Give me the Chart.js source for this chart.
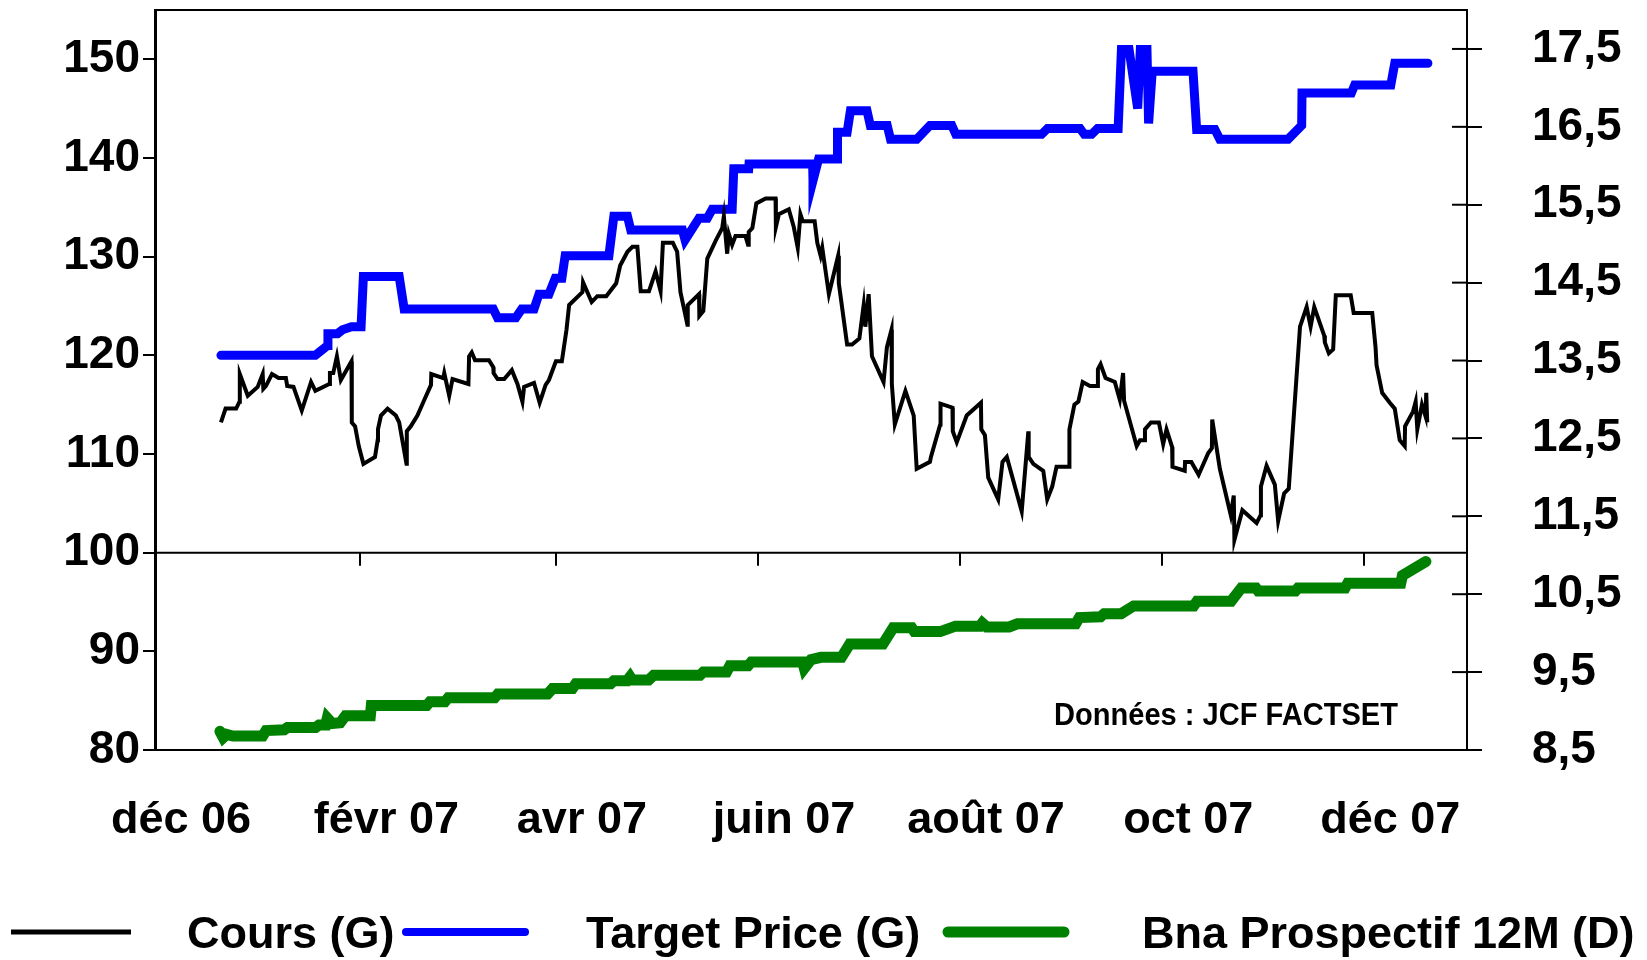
<!DOCTYPE html>
<html>
<head>
<meta charset="utf-8">
<script src="https://cdn.jsdelivr.net/npm/chart.js@4/dist/chart.umd.min.js"></script>
<style>
  html, body { margin: 0; padding: 0; background: #fff; }
</style>
</head>
<body>
<canvas id="chart" width="1647" height="960"></canvas>
<script>
// x values are days counted from 1 Dec 2006
var startDate = '2006-12-01';
var monthStarts = ['2006-12-01', '2007-02-01', '2007-04-01', '2007-06-01', '2007-08-01', '2007-10-01', '2007-12-01'];
var monthLabels = ['déc 06', 'févr 07', 'avr 07', 'juin 07', 'août 07', 'oct 07', 'déc 07'];
var leftTicks = [80, 90, 100, 110, 120, 130, 140, 150];
var rightTicks = [8.5, 9.5, 10.5, 11.5, 12.5, 13.5, 14.5, 15.5, 16.5, 17.5];
var seriesNames = ['Cours (G)', 'Target Price (G)', 'Bna Prospectif 12M (D)'];
var sourceText = 'Données : JCF FACTSET';

// Cours (G)
var coursDays = [19.9, 21.3, 24.5, 25.5, 25.6, 28.0, 31.0, 32.5, 32.7, 33.5, 35.3, 37.3, 39.5, 39.9, 41.8, 44.3, 47.1, 48.4,
    52.6, 52.8, 53.8, 54.9, 56.1, 59.3, 59.4, 60.4, 61.5, 62.9, 66.4, 67.2, 67.3, 68.2, 70.2, 72.7, 73.7, 75.9, 76.0, 77.2,
    79.2, 81.3, 83.3, 83.4, 87.0, 87.3, 88.8, 89.8, 94.6, 94.8, 95.6, 96.6, 100.8, 102.1, 102.2, 103.4, 105.4, 107.7, 109.4,
    110.9, 111.4, 114.4, 116.1, 117.1, 117.9, 118.9, 121.0, 122.8, 124.2, 125.0, 129.0, 129.2, 131.8, 133.5, 136.2, 139.2,
    140.4, 142.6, 144.1, 145.6, 146.6, 149.1, 151.1, 152.6, 153.3, 156.3, 157.6, 158.6, 160.7, 160.8, 164.2, 164.3, 165.5,
    166.7, 169.2, 171.2, 171.7, 172.7, 173.2, 174.2, 175.2, 178.2, 179.0, 179.2, 180.3, 181.5, 184.3, 187.3, 187.4, 188.3,
    191.3, 192.8, 194.0, 194.8, 195.5, 199.1, 199.9, 200.9, 201.4, 203.4, 206.2, 206.4, 208.9, 210.4, 212.6, 213.9, 214.4,
    215.4, 216.4, 219.9, 220.9, 222.3, 222.4, 223.3, 226.5, 229.0, 229.9, 233.9, 234.2, 237.0, 237.1, 240.7, 240.8, 242.0,
    245.0, 249.3, 249.4, 250.5, 251.5, 254.5, 255.8, 257.1, 261.6, 263.6, 263.7, 265.1, 268.1, 269.3, 270.8, 272.1, 275.9,
    276.0, 277.5, 278.7, 280.0, 282.2, 284.5, 284.6, 285.4, 286.9, 289.7, 291.2, 292.2, 292.5, 296.3, 297.3, 298.6, 298.8,
    300.6, 303.0, 304.3, 305.3, 307.0, 307.1, 310.8, 310.9, 312.8, 315.0, 317.9, 319.0, 319.1, 321.4, 324.7, 325.6, 325.8,
    328.2, 332.5, 333.7, 333.8, 335.5, 338.0, 339.0, 340.8, 342.2, 345.6, 347.6, 348.8, 349.9, 352.9, 353.1, 354.3, 355.6,
    356.4, 360.9, 361.8, 367.4, 368.4, 368.7, 370.4, 372.7, 374.2, 375.7, 377.2, 377.3, 379.7, 380.5, 381.0, 382.4, 383.5,
    383.7, 384.0];
var coursValues = [113.2, 114.6, 114.6, 115.3, 118.1, 115.9, 116.8, 118.1, 116.6, 116.9, 118.1, 117.7, 117.7, 116.9, 116.8, 114.4, 117.3, 116.4,
    117.1, 118.2, 118.2, 119.9, 117.5, 119.4, 113.2, 112.8, 110.8, 109.0, 109.7, 111.4, 112.5, 113.9, 114.6, 113.9, 113.2, 109.0, 112.3, 112.8,
    113.9, 115.5, 117.0, 118.1, 117.7, 118.2, 115.9, 117.6, 117.1, 119.9, 120.3, 119.5, 119.5, 118.8, 118.2, 117.6, 117.6, 118.5, 117.1,
    115.3, 116.8, 117.2, 115.2, 116.2, 117.0, 117.5, 119.4, 119.4, 122.6, 125.1, 126.4, 127.4, 125.4, 126.0, 126.0, 127.3,
    129.1, 130.5, 131.0, 131.0, 126.5, 126.5, 128.5, 126.5, 131.4, 131.4, 130.5, 126.4, 123.1, 125.1, 126.2, 124.0, 124.5,
    129.8, 131.6, 132.9, 134.1, 130.3, 132.3, 131.2, 132.1, 132.1, 131.2, 132.5, 132.9, 135.4, 135.9, 135.9, 133.0, 134.3,
    134.8, 133.0, 130.9, 134.3, 133.6, 133.6, 131.4, 130.1, 130.9, 126.2, 130.1, 127.3, 121.1, 121.1, 121.7, 125.1, 122.9,
    126.2, 119.9, 117.3, 120.8, 122.6, 117.1, 113.0, 116.4, 113.9, 108.5, 109.2, 109.7, 113.0, 115.1, 114.7, 112.3, 111.2,
    113.9, 115.2, 112.5, 111.9, 107.6, 105.4, 109.2, 109.7, 104.2, 112.3, 109.7, 109.0, 108.3, 105.4, 106.7, 108.7, 108.7,
    112.5, 115.0, 115.3, 117.3, 116.9, 116.9, 118.6, 119.1, 117.7, 117.3, 115.5, 118.2, 115.4, 110.8, 111.4, 111.4, 112.5,
    113.2, 113.2, 111.0, 112.5, 110.7, 108.7, 108.3, 109.2, 109.2, 107.9, 110.1, 110.6, 113.5, 108.5, 103.8, 105.8, 101.3,
    104.3, 103.0, 103.8, 106.7, 108.8, 106.9, 103.2, 106.0, 106.5, 122.9, 124.9, 122.9, 124.9, 122.0, 121.3, 120.2, 120.6,
    126.1, 126.1, 124.3, 124.3, 120.8, 119.0, 116.2, 115.2, 114.6, 111.4, 110.8, 112.8, 114.3, 115.3, 112.5, 115.0, 113.8,
    116.2, 113.2];

// Target Price (G)
var targetDays = [19.9, 48.4, 52.1, 52.2, 55.1, 56.6, 59.3, 62.2, 62.9, 73.7, 75.2, 102.1, 103.4, 108.9, 110.7, 114.4, 115.9, 118.9,
    120.8, 122.8, 123.8, 137.0, 138.5, 142.6, 143.6, 159.2, 160.0, 164.2, 166.7, 168.2, 174.2, 174.7, 179.2, 179.3, 198.5,
    198.6, 200.3, 205.9, 206.0, 208.9, 209.9, 214.9, 215.9, 221.0, 222.0, 229.9, 233.9, 240.5, 241.7, 267.6, 269.4, 279.2,
    280.5, 282.7, 284.5, 290.7, 291.7, 294.0, 296.6, 297.4, 299.4, 299.9, 301.0, 313.3, 314.4, 319.9, 321.4, 342.0, 346.1,
    346.2, 361.1, 362.1, 373.0, 374.2, 384.2];
var targetValues = [120.0, 120.0, 121.0, 122.2, 122.2, 122.6, 122.9, 122.9, 128.0, 128.0, 124.7, 124.7, 123.8, 123.8, 124.7, 124.7, 126.2, 126.2,
    127.8, 127.8, 130.1, 130.1, 134.1, 134.1, 132.7, 132.7, 131.7, 133.9, 133.9, 134.8, 134.8, 138.9, 138.9, 139.4, 139.4,
    137.7, 139.9, 139.9, 142.6, 142.6, 144.8, 144.8, 143.3, 143.3, 141.9, 141.9, 143.3, 143.3, 142.4, 142.4, 143.0, 143.0,
    142.4, 142.4, 143.0, 143.0, 151.0, 151.0, 145.0, 151.0, 151.0, 143.5, 148.8, 148.8, 142.9, 142.9, 141.9, 141.9, 143.3,
    146.6, 146.6, 147.4, 147.4, 149.6, 149.6];

// Bna Prospectif 12M (D)
var bnaDays = [19.6, 20.6, 21.6, 23.5, 32.5, 33.5, 39.0, 40.0, 48.5, 49.5, 51.5, 52.0, 53.5, 55.9, 57.5, 65.0, 65.3, 82.0, 83.0,
    87.5, 88.5, 102.5, 103.5, 118.5, 120.0, 126.0, 127.0, 137.5, 138.5, 142.5, 143.4, 144.0, 149.0, 150.5, 164.5, 165.5,
    172.5, 173.5, 179.0, 180.0, 195.5, 196.0, 198.0, 201.0, 207.2, 209.7, 219.7, 222.8, 228.4, 229.2, 237.0, 241.6, 249.0,
    249.7, 251.0, 257.8, 260.3, 277.9, 279.0, 285.4, 286.5, 291.6, 295.4, 313.5, 314.5, 324.8, 327.9, 332.3, 333.0, 344.2,
    345.0, 359.2, 360.0, 376.0, 376.5, 383.6];
var bnaValues = [8.74, 8.66, 8.70, 8.68, 8.68, 8.75, 8.76, 8.79, 8.79, 8.82, 8.82, 8.91, 8.84, 8.85, 8.94, 8.94, 9.07, 9.07, 9.12,
    9.12, 9.17, 9.17, 9.22, 9.22, 9.29, 9.29, 9.35, 9.35, 9.39, 9.39, 9.44, 9.40, 9.40, 9.46, 9.46, 9.50,
    9.50, 9.58, 9.58, 9.63, 9.63, 9.55, 9.66, 9.69, 9.69, 9.86, 9.86, 10.07, 10.07, 10.02, 10.02, 10.09, 10.09,
    10.13, 10.08, 10.08, 10.12, 10.12, 10.20, 10.21, 10.25, 10.25, 10.35, 10.35, 10.41, 10.41, 10.58, 10.58, 10.54, 10.54,
    10.58, 10.58, 10.64, 10.64, 10.74, 10.92];

var FONT = '"Liberation Sans", Arial, sans-serif';

function dayOf(s) {
    return (Date.parse(s) - Date.parse(startDate)) / 86400000;
}

function points(days, values) {
    return days.map(function (d, i) { return { x: d, y: values[i] }; });
}

var monthDays = monthStarts.map(dayOf);

// extra drawing: frame, divider at 100, inner ticks, source, legend
var decorPlugin = {
    id: 'decor',
    afterDraw: function (chart) {
        var ctx = chart.ctx;
        var a = chart.chartArea;
        var x = chart.scales.x, y = chart.scales.y, y1 = chart.scales.y1;

        function line(x0, y0, x2, y2) {
            ctx.beginPath();
            ctx.moveTo(x0, y0);
            ctx.lineTo(x2, y2);
            ctx.stroke();
        }

        ctx.save();
        ctx.strokeStyle = '#000';
        ctx.lineWidth = 2;
        line(a.left, a.top, a.right, a.top);

        var yd = y.getPixelForValue(100);
        line(a.left, yd, a.right, yd);
        monthDays.forEach(function (d) {
            var px = Math.round(x.getPixelForValue(d));
            line(px, yd, px, yd + 13);
        });

        rightTicks.forEach(function (v) {
            var py = y1.getPixelForValue(v);
            line(a.right - 15, py, a.right, py);
        });

        // source note
        ctx.fillStyle = '#000';
        ctx.textBaseline = 'alphabetic';
        ctx.font = 'bold 32px ' + FONT;
        var w = ctx.measureText(sourceText).width;
        ctx.save();
        ctx.translate(a.right - 413, a.bottom - 25);
        ctx.scale(344 / w, 1);
        ctx.fillText(sourceText, 0, 0);
        ctx.restore();

        // legend
        var items = [
            { color: '#000000', width: 5, x0: 11, x1: 131, tx: 187 },
            { color: '#0000ff', width: 8, x0: 406, x1: 525, tx: 586 },
            { color: '#008000', width: 11, x0: 948, x1: 1064, tx: 1142 }
        ];
        ctx.font = 'bold 45px ' + FONT;
        items.forEach(function (it, i) {
            ctx.strokeStyle = it.color;
            ctx.lineWidth = it.width;
            ctx.lineCap = i === 0 ? 'butt' : 'round';
            line(it.x0, 932, it.x1, 932);
            ctx.fillText(seriesNames[i], it.tx, 948);
        });
        ctx.restore();
    }
};

function createChart() {
    var ctx = document.getElementById('chart').getContext('2d');

    new Chart(ctx, {
        type: 'line',
        data: {
            datasets: [{
                label: seriesNames[0],
                data: points(coursDays, coursValues),
                yAxisID: 'y',
                borderColor: '#000000',
                borderWidth: 4,
                pointRadius: 0,
                tension: 0
            }, {
                label: seriesNames[1],
                data: points(targetDays, targetValues),
                yAxisID: 'y',
                borderColor: '#0000ff',
                borderWidth: 9,
                borderCapStyle: 'round',
                pointRadius: 0,
                tension: 0
            }, {
                label: seriesNames[2],
                data: points(bnaDays, bnaValues),
                yAxisID: 'y1',
                borderColor: '#008000',
                borderWidth: 11,
                borderCapStyle: 'round',
                pointRadius: 0,
                tension: 0
            }]
        },
        options: {
            responsive: false,
            devicePixelRatio: 1,
            animation: false,
            layout: { padding: { top: 10, left: 0, right: 0, bottom: 0 } },
            plugins: {
                legend: { display: false },
                tooltip: { enabled: false }
            },
            scales: {
                x: {
                    type: 'linear',
                    min: 0,
                    max: 396,
                    afterBuildTicks: function (scale) {
                        scale.ticks = monthDays.map(function (v) { return { value: v }; });
                    },
                    afterFit: function (scale) {
                        scale.height = 210;
                        scale.paddingLeft = 0;
                        scale.paddingRight = 0;
                    },
                    grid: { display: true, drawOnChartArea: false, drawTicks: false },
                    border: { display: true, color: '#000', width: 2 },
                    ticks: {
                        autoSkip: false,
                        maxRotation: 0,
                        minRotation: 0,
                        labelOffset: 26,
                        padding: 44,
                        color: '#000',
                        font: { family: FONT, size: 45, weight: 'bold' },
                        callback: function (v, i) { return monthLabels[i]; }
                    }
                },
                y: {
                    position: 'left',
                    min: 80,
                    max: 155,
                    afterBuildTicks: function (scale) {
                        scale.ticks = leftTicks.map(function (v) { return { value: v }; });
                    },
                    afterFit: function (scale) {
                        scale.width = 155;
                        scale.paddingTop = 0;
                        scale.paddingBottom = 0;
                    },
                    grid: { drawOnChartArea: false, tickLength: 12, color: '#000', lineWidth: 2 },
                    border: { color: '#000', width: 3 },
                    ticks: {
                        padding: 3,
                        color: '#000',
                        font: { family: FONT, size: 46, weight: 'bold' }
                    }
                },
                y1: {
                    position: 'right',
                    min: 8.5,
                    max: 18,
                    afterBuildTicks: function (scale) {
                        scale.ticks = rightTicks.map(function (v) { return { value: v }; });
                    },
                    afterFit: function (scale) {
                        scale.width = 180;
                        scale.paddingTop = 0;
                        scale.paddingBottom = 0;
                    },
                    grid: { drawOnChartArea: false, tickLength: 15, color: '#000', lineWidth: 2 },
                    border: { color: '#000', width: 2 },
                    ticks: {
                        padding: 50,
                        color: '#000',
                        font: { family: FONT, size: 46, weight: 'bold' },
                        callback: function (v) { return v.toFixed(1).replace('.', ','); }
                    }
                }
            }
        },
        plugins: [decorPlugin]
    });
}

createChart();
</script>
</body>
</html>
